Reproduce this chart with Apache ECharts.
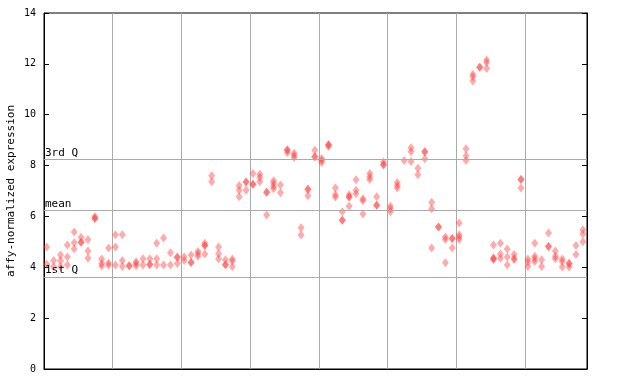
<!DOCTYPE html>
<html>
<head>
<meta charset="utf-8">
<script src="https://cdn.jsdelivr.net/npm/echarts@6/dist/echarts.min.js"></script>
<style>html,body{margin:0;padding:0;background:#fff}#c{width:640px;height:384px}</style>
</head>
<body>
<div id="c"></div>
<script>
// Sample columns (x index) and their replicate expression values
var sampleValues = [
  [4.80, 4.12],
  [4.27, 4.02],
  [4.48, 4.27, 4.03],
  [4.88, 4.40, 4.09],
  [5.39, 4.96, 4.72],
  [5.18, 4.98, 4.98],
  [5.08, 4.64, 4.36],
  [6.00, 5.92, 5.92],
  [4.33, 4.15, 4.05],
  [4.76, 4.17, 4.08],
  [5.28, 4.80, 4.09],
  [5.28, 4.27, 4.03],
  [4.06, 4.06],
  [4.22, 4.14, 4.06],
  [4.34, 4.09],
  [4.34, 4.11, 4.11],
  [4.95, 4.34, 4.09],
  [5.15, 4.09],
  [4.57, 4.09],
  [4.39, 4.39, 4.15],
  [4.40, 4.27],
  [4.48, 4.19, 4.19],
  [4.62, 4.53, 4.43],
  [4.95, 4.86, 4.86, 4.52],
  [7.60, 7.36],
  [4.80, 4.53, 4.33],
  [4.30, 4.10, 4.10],
  [4.33, 4.24, 4.02],
  [7.22, 7.03, 6.77],
  [7.35, 7.35, 7.03],
  [7.69, 7.27, 7.27],
  [7.66, 7.54, 7.36],
  [6.95, 6.95, 6.06],
  [7.40, 7.30, 7.19, 7.09],
  [7.24, 6.93],
  [8.61, 8.61, 8.50],
  [8.48, 8.40, 8.32],
  [5.55, 5.27],
  [7.07, 7.07, 6.81],
  [8.60, 8.35, 8.35],
  [8.28, 8.20, 8.12],
  [8.82, 8.82, 8.75],
  [7.12, 6.85, 6.76],
  [6.18, 5.85, 5.85],
  [6.85, 6.76, 6.76, 6.40],
  [7.44, 7.03, 6.89],
  [6.70, 6.62, 6.10],
  [7.69, 7.56, 7.45],
  [6.77, 6.44, 6.44],
  [8.14, 8.03, 8.03],
  [6.40, 6.30, 6.18],
  [7.33, 7.22, 7.12],
  [8.20],
  [8.70, 8.54, 8.16],
  [7.89, 7.64],
  [8.54, 8.54, 8.27],
  [6.56, 6.30, 4.76],
  [5.58, 5.58],
  [5.19, 5.09, 4.18],
  [5.13, 5.13, 4.76],
  [5.74, 5.28, 5.19, 5.09],
  [8.66, 8.39, 8.20],
  [11.59, 11.49, 11.33],
  [11.87, 11.87],
  [12.15, 12.05, 11.82],
  [4.88, 4.36, 4.36, 4.30],
  [4.95, 4.52, 4.36],
  [4.72, 4.40, 4.09],
  [4.50, 4.36, 4.30],
  [7.45, 7.45, 7.12],
  [4.33, 4.21, 4.03],
  [4.95, 4.43, 4.34, 4.23],
  [4.30, 4.03],
  [5.35, 4.82, 4.82],
  [4.64, 4.43, 4.34],
  [4.33, 4.23, 4.01],
  [4.15, 4.15, 4.01],
  [4.86, 4.50],
  [5.48, 5.31, 5.00]
];
var samplesPerGroup = 10;
var totalSlots = 79;
var yMin = 0, yMax = 14, yStep = 2;
var refLabels = ['3rd Q', 'mean', '1st Q'];
var refValues = [8.24, 6.23, 3.62];
var yTitle = 'affy-normalized expression';

var points = [];
sampleValues.forEach(function (vals, i) {
  vals.forEach(function (v) { points.push([i + 0.4, v]); });
});

var mono = 'DejaVu Sans Mono';
var chart = echarts.init(document.getElementById('c'), null, {renderer: 'canvas'});
chart.setOption({
  animation: false,
  grid: {left: 44, right: 53, top: 13, bottom: 15, containLabel: false, outerBoundsMode: 'none',
    show: true, borderColor: '#000', borderWidth: 1, backgroundColor: 'transparent'},
  xAxis: {
    type: 'value', min: 0, max: totalSlots, interval: samplesPerGroup,
    axisLine: {show: true, lineStyle: {color: '#000', width: 1}},
    axisTick: {show: false}, axisLabel: {show: false},
    splitLine: {show: true, lineStyle: {color: '#aaaaaa', width: 1}}
  },
  yAxis: [{
    type: 'value', min: yMin, max: yMax, interval: yStep,
    name: yTitle, nameLocation: 'middle', nameGap: 27, nameRotate: 90, nameMoveOverlap: false,
    nameTextStyle: {fontFamily: mono, fontSize: 11, color: '#000'},
    axisLine: {show: true, lineStyle: {color: '#000', width: 1}},
    axisTick: {show: true, inside: true, length: 5, lineStyle: {color: '#000'}},
    axisLabel: {fontFamily: mono, fontSize: 10, color: '#000', margin: 8},
    splitLine: {show: false}
  }, {
    type: 'value', min: yMin, max: yMax, interval: yStep, position: 'right',
    axisLine: {show: true, lineStyle: {color: '#000', width: 1}},
    axisTick: {show: true, inside: true, length: 5, lineStyle: {color: '#000'}},
    axisLabel: {show: false}, splitLine: {show: false}
  }],
  series: [{
    type: 'line', data: [], z: 1, silent: true,
    markLine: {
      symbol: 'none', silent: true, animation: false,
      lineStyle: {color: '#aaaaaa', width: 1, type: 'solid'},
      label: {position: 'insideStartTop', distance: [1, 1], color: '#000', fontFamily: mono, fontSize: 11,
        formatter: function (p) { return p.name; }},
      data: refValues.map(function (v, i) { return {name: refLabels[i], yAxis: v}; })
    }
  }, {
    type: 'scatter', z: 3, data: points,
    symbol: 'diamond', symbolSize: [7, 9],
    itemStyle: {color: 'rgba(255,64,64,0.55)', borderWidth: 0}
  }]
});
</script>
</body>
</html>
